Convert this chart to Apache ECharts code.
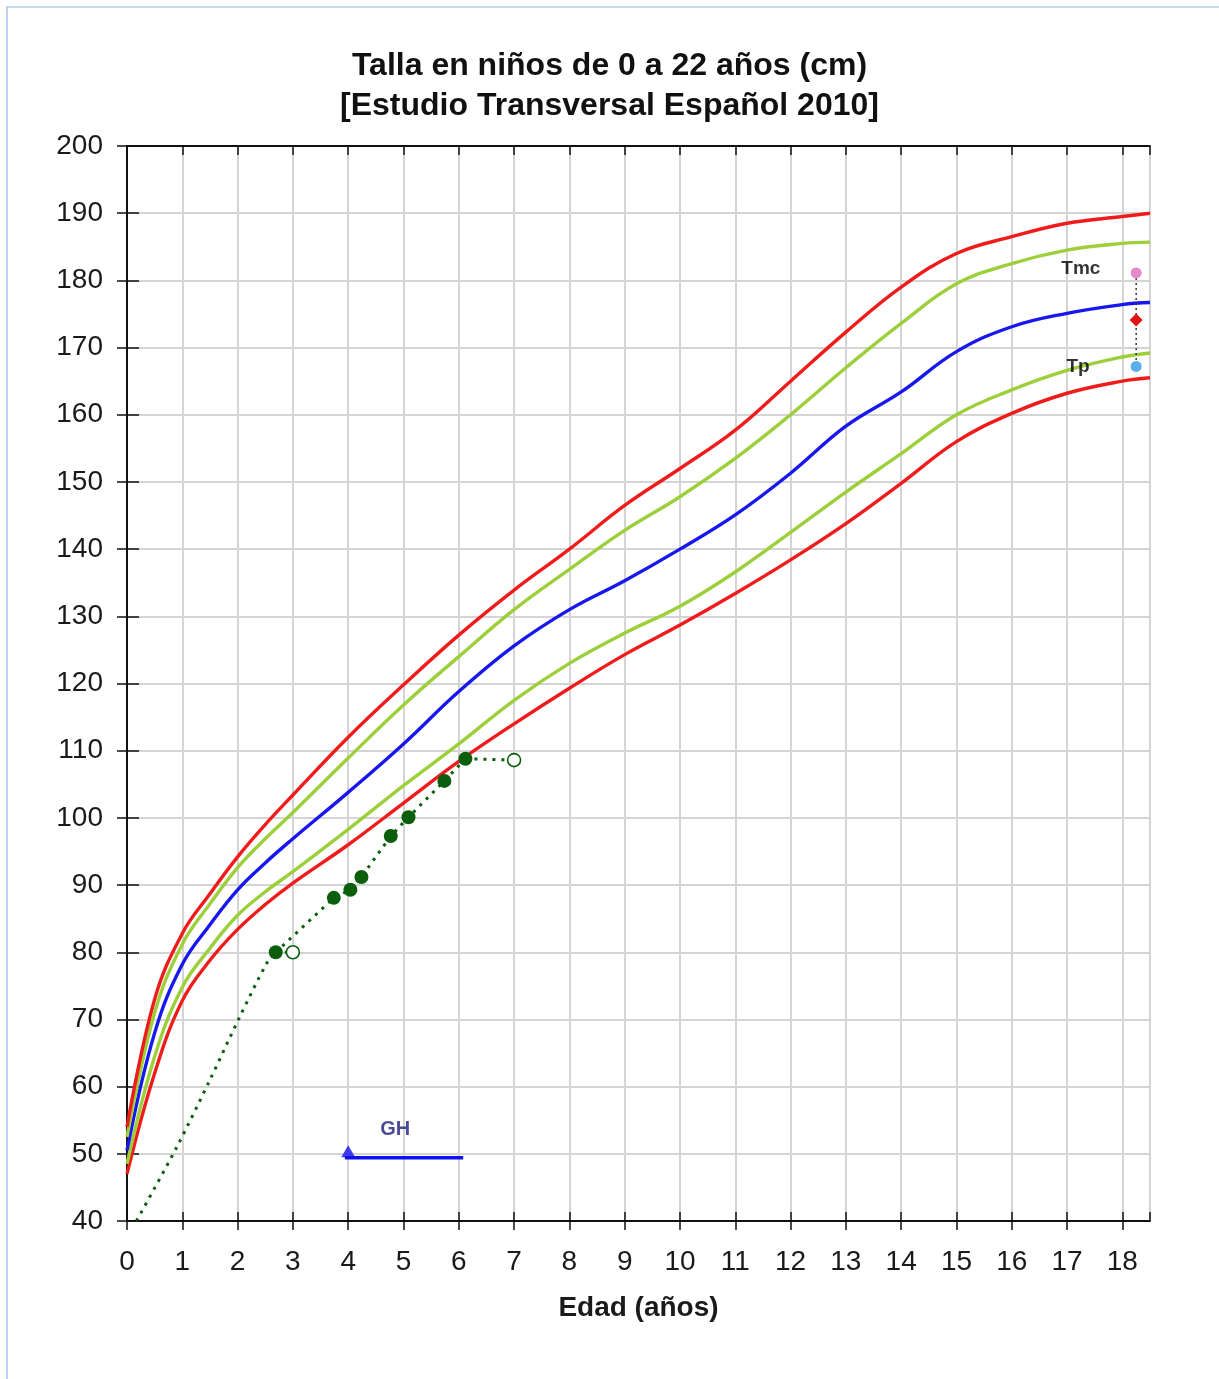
<!DOCTYPE html>
<html>
<head>
<meta charset="utf-8">
<script src="https://cdn.jsdelivr.net/npm/echarts@6/dist/echarts.min.js"></script>
<style>
html,body{margin:0;padding:0;background:#fff;}
#chart{width:1219px;height:1379px;}
</style>
</head>
<body>
<div id="chart"></div>
<script>
// ---- data ----
var ages = [0, 0.5, 1, 1.5, 2, 2.5, 3, 4, 5, 6, 7, 8, 9, 10, 11, 12, 13, 14, 15, 16, 17, 18, 18.5];
var p3  = [47, 62, 72.8, 78.8, 83.4, 87.1, 90.3, 96, 102.2, 108.4, 114, 119.3, 124.3, 128.7, 133.4, 138.4, 143.8, 149.8, 156, 160.2, 163.2, 165, 165.5];
var p10 = [48.5, 64.5, 74.8, 80.6, 85.5, 89, 92, 98.3, 104.8, 111, 117.5, 123, 127.5, 131.5, 136.6, 142.5, 148.5, 154.2, 160, 163.7, 166.6, 168.6, 169.2];
var p50 = [50.5, 68, 78.2, 84.1, 89.3, 93.3, 96.9, 103.8, 111, 118.8, 125.6, 131, 135.3, 140, 145.1, 151.3, 158.3, 163.4, 169.4, 173.1, 175.1, 176.4, 176.7];
var p90 = [52.5, 71, 81.2, 87.2, 92.6, 96.9, 100.8, 108.9, 116.8, 124, 131, 137, 142.8, 147.8, 153.5, 160, 167, 173.6, 179.5, 182.5, 184.5, 185.5, 185.7];
var p97 = [54, 73, 82.8, 88.7, 94.2, 99, 103.4, 112, 119.8, 127.2, 133.9, 140, 146.5, 152, 157.7, 165, 172.3, 179, 184, 186.5, 188.5, 189.5, 190];

// patient measurements (filled) and bone-age points (open)
var leadInAge = [0.17, 0.9, 1.5, 2.04, 2.53, 2.69];
var leadInH   = [40, 51, 61, 70.4, 78.4, 80];
var patAge = [2.69, 3.74, 4.04, 4.24, 4.77, 5.09, 5.74, 6.12];
var patH   = [80, 88.1, 89.3, 91.2, 97.3, 100.1, 105.5, 108.8];
var boneA  = [[2.69, 80], [3.0, 80]];
var boneB  = [[6.12, 108.8], [7.0, 108.6]];

// target heights at right side
var tmcAge = 18.25;
var targetH = [181.1, 174.1, 167.2]; // Tmc (pink), mid (red), Tp (light blue)

// GH treatment bar
var ghLine = [[3.94, 49.4], [6.08, 49.4]];
var ghStart = [4.0, 50.4];
var textLabels = [
  {name: 'GH', pos: [4.85, 53.6]},
  {name: 'Tmc', pos: [17.25, 181.8]},
  {name: 'Tp', pos: [17.2, 167.1]}
];

var xTicks = {min: 0, max: 18.5, interval: 1};
var yTicks = {min: 40, max: 200, interval: 10};

function zip(a, b) { return a.map(function (v, i) { return [v, b[i]]; }); }

var FONT = '"Liberation Sans", Arial, sans-serif';
var chart = echarts.init(document.getElementById('chart'), null, {renderer: 'canvas'});

function pctSeries(name, vals, color) {
  return {
    name: name, type: 'line', data: zip(ages, vals), smooth: 0.4,
    symbol: 'none', lineStyle: {color: color, width: 3.4}, z: 3, silent: true
  };
}

var GREEN = '#0b5e0b';
function boneSeries(name, pts) {
  return {name: name, type: 'line', z: 4,
    data: pts.map(function (p, i) {
      return i === 0 ? {value: p, symbol: 'none'} : {value: p, symbol: 'circle', symbolSize: 13,
        itemStyle: {color: '#ffffff', borderColor: GREEN, borderWidth: 1.6}};
    }),
    lineStyle: {color: GREEN, width: 3, type: [3, 6]}, itemStyle: {color: GREEN}};
}

var option = {
  animation: false,
  backgroundColor: '#fff',
  graphic: [
    {type: 'rect', shape: {x: 7, y: 7, width: 1260, height: 1420},
     style: {fill: 'none', stroke: '#8fb3e0', lineWidth: 1.2}, z: -10, silent: true}
  ],
  title: {
    text: 'Talla en niños de 0 a 22 años (cm)\n[Estudio Transversal Español 2010]',
    left: 'center', top: 41,
    textStyle: {fontFamily: FONT, fontSize: 32, fontWeight: 'bold', color: '#111', lineHeight: 40}
  },
  grid: {left: 127, right: 69, top: 146, bottom: 158, containLabel: false},
  xAxis: [
    {type: 'value', position: 'bottom', min: xTicks.min, max: xTicks.max, interval: xTicks.interval,
     name: 'Edad (años)', nameLocation: 'middle', nameGap: 73,
     nameTextStyle: {fontFamily: FONT, fontSize: 28, fontWeight: 'bold', color: '#1a1a1a'},
     axisLine: {show: true, lineStyle: {color: '#111', width: 2}},
     axisTick: {show: true, inside: false, length: 9, lineStyle: {color: '#111', width: 1.5}},
     axisLabel: {fontFamily: FONT, fontSize: 28, color: '#1a1a1a', margin: 27, showMaxLabel: false},
     splitLine: {show: true, lineStyle: {color: '#d4d4d4', width: 2}}},
    {type: 'value', position: 'bottom', min: xTicks.min, max: xTicks.max, interval: xTicks.interval,
     axisLine: {show: false}, axisLabel: {show: false}, splitLine: {show: false},
     axisTick: {show: true, inside: true, length: 9, lineStyle: {color: '#111', width: 1.5}}},
    {type: 'value', position: 'top', min: xTicks.min, max: xTicks.max, interval: xTicks.interval,
     axisLine: {show: true, lineStyle: {color: '#111', width: 2}}, axisLabel: {show: false}, splitLine: {show: false},
     axisTick: {show: true, inside: true, length: 9, lineStyle: {color: '#111', width: 1.5}}}
  ],
  yAxis: [
    {type: 'value', position: 'left', min: yTicks.min, max: yTicks.max, interval: yTicks.interval,
     axisLine: {show: true, lineStyle: {color: '#111', width: 2}},
     axisTick: {show: true, inside: false, length: 10, lineStyle: {color: '#111', width: 1.5}},
     axisLabel: {fontFamily: FONT, fontSize: 28, color: '#1a1a1a', margin: 24},
     splitLine: {show: true, lineStyle: {color: '#d4d4d4', width: 2}}},
    {type: 'value', position: 'left', min: yTicks.min, max: yTicks.max, interval: yTicks.interval,
     axisLine: {show: false}, axisLabel: {show: false}, splitLine: {show: false},
     axisTick: {show: true, inside: true, length: 12, lineStyle: {color: '#111', width: 1.5}}},
    {type: 'value', position: 'right', min: yTicks.min, max: yTicks.max, interval: yTicks.interval,
     axisLine: {show: true, lineStyle: {color: '#111', width: 2}}, axisLabel: {show: false}, splitLine: {show: false},
     axisTick: {show: true, inside: true, length: 9, lineStyle: {color: '#111', width: 1.5}}}
  ],
  series: [
    pctSeries('P3', p3, '#f01c1c'),
    pctSeries('P10', p10, '#9ccf3a'),
    pctSeries('P50', p50, '#1717ee'),
    pctSeries('P90', p90, '#9ccf3a'),
    pctSeries('P97', p97, '#f01c1c'),
    {name: 'leadin', type: 'line', data: zip(leadInAge, leadInH), smooth: 0.3, symbol: 'none',
     lineStyle: {color: GREEN, width: 3, type: [3, 6]}, z: 4},
    boneSeries('boneA', boneA),
    boneSeries('boneB', boneB),
    {name: 'patient', type: 'line', data: zip(patAge, patH), smooth: false, symbol: 'circle', symbolSize: 14,
     lineStyle: {color: GREEN, width: 3, type: [3, 6]}, itemStyle: {color: GREEN}, z: 5},
    {name: 'target', type: 'line', data: targetH.map(function (h, i) {
        var cols = ['#e38ac8', '#dd1414', '#5aaeea'];
        return {value: [tmcAge, h], symbol: i === 1 ? 'diamond' : 'circle', symbolSize: i === 1 ? 13 : 11,
                itemStyle: {color: cols[i]}};
      }),
     lineStyle: {color: '#333', width: 1.5, type: [2, 3]}, z: 6},
    {name: 'gh', type: 'line', data: ghLine, symbol: 'none', lineStyle: {color: '#1010ee', width: 3.5}, z: 6},
    {name: 'ghStart', type: 'scatter', data: [ghStart], symbol: 'triangle', symbolSize: [14, 12],
     itemStyle: {color: '#1010ee'}, z: 6},
    {name: 'labels', type: 'scatter', symbolSize: 0, z: 7,
     data: textLabels.map(function (t) {
       return {value: t.pos, name: t.name,
         label: {show: true, position: 'inside', formatter: t.name, fontFamily: FONT, fontWeight: 'bold',
                 fontSize: t.name === 'GH' ? 20 : 19, color: t.name === 'GH' ? '#1c1c7a' : '#000000'}};
     })}
  ]
};
chart.setOption(option);
</script>
</body>
</html>
